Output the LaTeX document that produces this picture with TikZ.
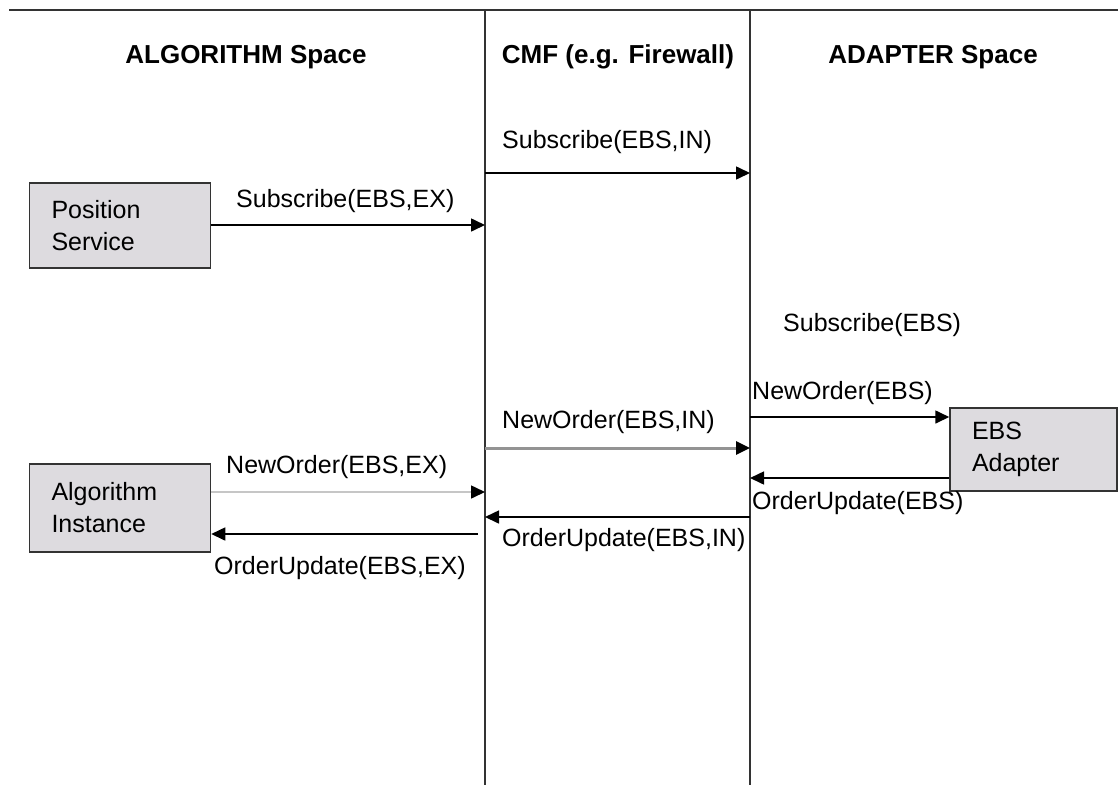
\documentclass[tikz,border=0pt]{standalone}
\usepackage{fontspec}
\setmainfont{Liberation Sans}
\usetikzlibrary{positioning,calc,arrows.meta}

\definecolor{boxgray}{RGB}{221,219,223}
\definecolor{lanegray}{RGB}{51,51,51}

\begin{document}
\begin{tikzpicture}[x=1pt,y=1pt]
    \tikzstyle{every node}=[inner sep=0,font=\fontsize{25}{32}\selectfont]
    \tikzstyle{head}=[font=\fontsize{26}{30}\selectfont\bfseries]
    \tikzstyle{msg}=[anchor=west]
    \tikzstyle{comp}=[draw=lanegray,line width=1.5,fill=boxgray,rectangle,align=left,inner xsep=22,minimum height=85]
    \tikzstyle{lane}=[draw=lanegray,line width=2]
    \tikzstyle{call}=[line width=1.6,-{Triangle[length=14pt,width=13pt,color=black]}]
    {
        \useasboundingbox (0,0) rectangle (1118,-785);

        \coordinate (topl) at (9,-10);
        \coordinate (topr) at (1118,-10);
        \coordinate (cmftop) at (485,-10);
        \coordinate (cmfbot) at (485,-785);
        \coordinate (adatop) at (750,-10);
        \coordinate (adabot) at (750,-785);

        \draw[lane] (topl) -- (topr);
        \draw[lane] (cmftop) -- (cmfbot);
        \draw[lane] (adatop) -- (adabot);

        \node[head] (halg) at (246,-57) {ALGORITHM Space};
        \node[head] (hcmf) at (618,-57) {CMF (e.g. Firewall)};
        \node[head] (hada) at (933,-57) {ADAPTER Space};

        \node[comp,text width=137,minimum height=85] (pos) at (120,-225.5) {Position\\Service};
        \node[comp,text width=137,minimum height=88] (alg) at (120,-508) {Algorithm\\Instance};
        \node[comp,text width=123,minimum height=83] (ebs) at (1033.5,-449.5) {EBS\\Adapter};

        \coordinate (sin1) at (485,-173);
        \coordinate (sin2) at (750,-173);
        \coordinate (sex) at (485,-225);
        \coordinate (nin1) at (485,-448);
        \coordinate (nin2) at (750,-448);
        \coordinate (neb) at (750,-417);
        \coordinate (oeb) at (750,-478);
        \coordinate (oin2) at (750,-517);
        \coordinate (oin1) at (485,-517);
        \coordinate (nex) at (485,-492);
        \coordinate (oex) at (478,-534);

        \node[msg] (lsin) at (502,-142) {Subscribe(EBS,IN)};
        \node[msg] (lsex) at (236,-201) {Subscribe(EBS,EX)};
        \node[msg] (lseb) at (783,-325) {Subscribe(EBS)};
        \node[msg] (lneb) at (752,-393) {NewOrder(EBS)};
        \node[msg] (lnin) at (502,-422) {NewOrder(EBS,IN)};
        \node[msg] (lnex) at (226,-467) {NewOrder(EBS,EX)};
        \node[msg] (loeb) at (752,-503) {OrderUpdate(EBS)};
        \node[msg] (loin) at (502,-540) {OrderUpdate(EBS,IN)};
        \node[msg] (loex) at (214,-568) {OrderUpdate(EBS,EX)};

        \draw[call] (sin1) -- (sin2);
        \draw[call] (pos.east |- sex) -- (sex);
        \draw[call,draw=gray!85,line width=3] (nin1) -- (nin2);
        \draw[call] (neb) -- (neb -| ebs.west);
        \draw[call] (oeb -| ebs.west) -- (oeb);
        \draw[call] (oin2) -- (oin1);
        \draw[call,draw=gray!45] (alg.east |- nex) -- (nex);
        \draw[call] (oex) -- (oex -| alg.east);
    }
\end{tikzpicture}
\end{document}
